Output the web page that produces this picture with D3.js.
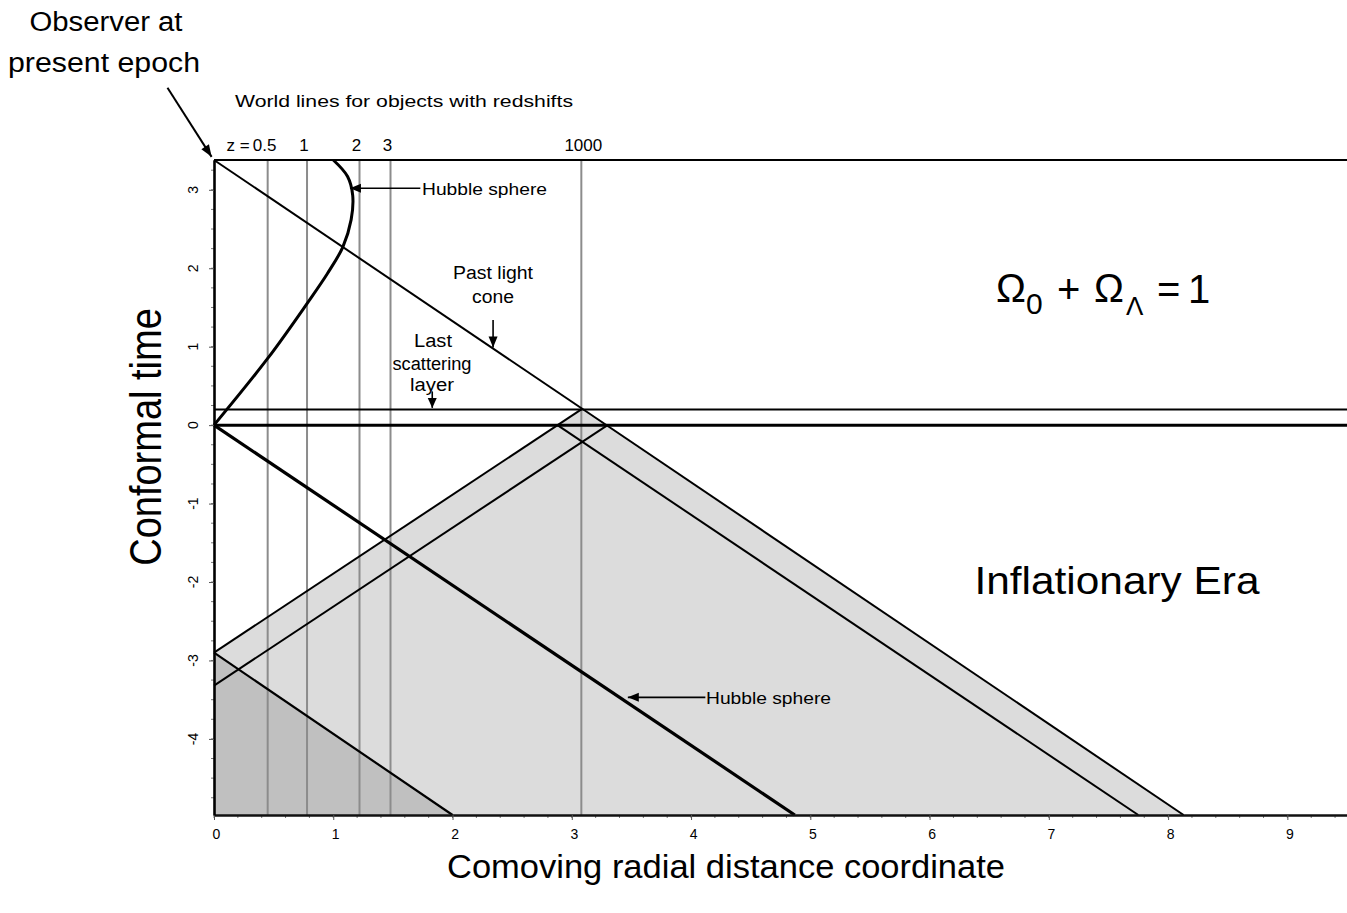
<!DOCTYPE html>
<html><head><meta charset="utf-8">
<script src="https://cdn.jsdelivr.net/npm/d3@7"></script>
<style>
body{margin:0;background:#fff}
text{font-family:Arial,"Liberation Sans",sans-serif;fill:#000}
</style>
</head><body>
<svg id="chart" width="1347" height="913"></svg>
<script>
// ---- axis ticks ----
const xTicks = [0,1,2,3,4,5,6,7,8,9];
const yTicks = [-4,-3,-2,-1,0,1,2,3];

// ---- conformal times ----
const tNow = 3.38;      // present epoch
const tLast = 0.2;      // last scattering layer
const tEndInfl = 0;     // end of inflation
const tMin = -4.97;     // bottom of the diagram
const xMax = 9.5;

// ---- world lines of objects at fixed redshift ----
const zLabels = ["0.5","1","2","3","1000"];
const zDistance = [0.45,0.78,1.22,1.48,3.08];

// ---- Hubble sphere after inflation (comoving distance vs conformal time) ----
const hubbleDist = [0,0.45,0.78,0.95,1.08,1.15,1.163,1.12,1.0];
const hubbleTime = [0,0.85,1.55,1.93,2.27,2.62,2.93,3.17,3.38];

// ---- Hubble sphere during inflation ----
const hubbleInflDist = [0,4.87];
const hubbleInflTime = [0,-4.97];

// ---- past light cone of the observer ----
const coneDist = [0,8.13];
const coneTime = [3.38,-4.97];

// ---- light cones inside the inflationary era ----
const outerLeftDist = [0,3.08],  outerLeftTime = [-2.9,0.2];
const innerLeftDist = [0,3.30],  innerLeftTime = [-3.32,0];
const innerRightDist = [2.88,7.75], innerRightTime = [0,-4.97];
const darkEdgeDist = [0,2.0],    darkEdgeTime = [-2.9,-4.97];

const svg = d3.select("#chart");
const x = d3.scaleLinear().domain([0,xMax]).range([214,1347]);
const y = d3.scaleLinear().domain([tMin,tNow]).range([815,160]);

const pts = (xs,ts) => xs.map((v,i)=>[x(v),y(ts[i])]);
const line = d3.line();

// ---- shaded regions ----
svg.append("path")
  .attr("d", line([
    [x(outerLeftDist[0]),y(outerLeftTime[0])],
    [x(outerLeftDist[1]),y(outerLeftTime[1])],
    [x(coneDist[1]),y(coneTime[1])],
    [x(0),y(tMin)]]) + "Z")
  .attr("fill","#dcdcdc");
svg.append("path")
  .attr("d", line([
    [x(darkEdgeDist[0]),y(darkEdgeTime[0])],
    [x(darkEdgeDist[1]),y(darkEdgeTime[1])],
    [x(0),y(tMin)]]) + "Z")
  .attr("fill","#c0c0c0");

// ---- redshift world lines ----
svg.selectAll("line.zline").data(zDistance).join("line")
  .attr("class","zline")
  .attr("x1",d=>x(d)).attr("x2",d=>x(d))
  .attr("y1",y(tNow)).attr("y2",y(tMin))
  .attr("stroke","#8c8c8c").attr("stroke-width",2);

// ---- straight black lines ----
function seg(xs,ts,w){
  svg.append("path").attr("d",line(pts(xs,ts)))
    .attr("fill","none").attr("stroke","#000").attr("stroke-width",w);
}
seg(outerLeftDist,outerLeftTime,2);
seg(innerLeftDist,innerLeftTime,2);
seg(innerRightDist,innerRightTime,2);
seg(darkEdgeDist,darkEdgeTime,2.2);
seg(coneDist,coneTime,2);
seg(hubbleInflDist,hubbleInflTime,3.2);
// horizontal epochs
seg([0,xMax],[tLast,tLast],2);
seg([0,xMax],[tEndInfl,tEndInfl],3);
seg([0,xMax],[tNow,tNow],2.2);

// Hubble sphere curve
svg.append("path")
  .attr("d", d3.line().curve(d3.curveCatmullRom.alpha(0.5))(pts(hubbleDist,hubbleTime)))
  .attr("fill","none").attr("stroke","#000").attr("stroke-width",3);

// ---- axes ----
const xMinor = d3.range(0,xMax+0.001,0.2);
const yMinor = d3.range(-4.75,tNow,0.25);
svg.append("g").selectAll("line").data(xMinor).join("line")
  .attr("x1",d=>x(d)).attr("x2",d=>x(d)).attr("y1",815).attr("y2",818)
  .attr("stroke","#777").attr("stroke-width",1);
svg.append("g").selectAll("line").data(yMinor).join("line")
  .attr("y1",d=>y(d)).attr("y2",d=>y(d)).attr("x1",211).attr("x2",214)
  .attr("stroke","#777").attr("stroke-width",1);

const gx = svg.append("g").attr("transform","translate(0,815)")
  .call(d3.axisBottom(x).tickValues(xTicks).tickSize(5).tickSizeOuter(0).tickPadding(9));
gx.select(".domain").attr("stroke","#111").attr("stroke-width",2.6);
gx.selectAll(".tick line").attr("stroke","#555");
gx.selectAll(".tick text").attr("font-size",14).attr("fill","#444")
  .attr("font-family","Arial, 'Liberation Sans', sans-serif").attr("dx",2);

const gy = svg.append("g").attr("transform","translate(214,0)")
  .call(d3.axisLeft(y).tickValues(yTicks).tickSize(5).tickSizeOuter(0).tickFormat(""));
gy.select(".domain").attr("stroke","#000").attr("stroke-width",2.6);
gy.selectAll(".tick line").attr("stroke","#555");
svg.append("g").selectAll("text").data(yTicks).join("text")
  .attr("transform",d=>`translate(198,${y(d)}) rotate(-90)`)
  .attr("text-anchor","middle").attr("font-size",14).attr("fill","#555")
  .text(d=>d);

// ---- redshift labels ----
svg.append("g").selectAll("text").data(zLabels).join("text")
  .attr("x",(d,i)=>x(zDistance[i]) - (i<4 ? 3 : -2))
  .attr("y",151).attr("text-anchor","middle").attr("font-size",17)
  .text(d=>d);
svg.append("text").attr("x",x(zDistance[0])-18).attr("y",151)
  .attr("text-anchor","end").attr("font-size",17).text("z =");

// ---- arrows ----
function arrow(x1,y1,x2,y2,len,wid,w){
  svg.append("line").attr("x1",x1).attr("y1",y1).attr("x2",x2).attr("y2",y2)
    .attr("stroke","#000").attr("stroke-width",w);
  const a = Math.atan2(y2-y1,x2-x1);
  const bx = x2 - len*Math.cos(a), by = y2 - len*Math.sin(a);
  const px = -Math.sin(a)*wid/2, py = Math.cos(a)*wid/2;
  svg.append("path").attr("d",`M${x2},${y2}L${bx+px},${by+py}L${bx-px},${by-py}Z`).attr("fill","#000");
}
arrow(x(-0.39),y(4.3),x(-0.02),y(3.42),12,9,2);     // observer
arrow(x(1.73),y(3.02),x(1.14),y(3.02),11,9,1.6);     // Hubble sphere (upper)
arrow(x(2.34),y(1.34),x(2.34),y(0.99),11,9,1.6);     // past light cone
arrow(x(1.83),y(0.43),x(1.83),y(0.22),10,9,1.6);     // last scattering
arrow(x(4.12),y(-3.47),x(3.47),y(-3.47),11,9,1.6);   // Hubble sphere (lower)

// ---- annotation text ----
function label(txt,cx,by,size,width,anchor){
  const t = svg.append("text").attr("x",cx).attr("y",by)
    .attr("font-size",size).attr("text-anchor",anchor||"middle").text(txt);
  if(width) t.attr("textLength",width).attr("lengthAdjust","spacingAndGlyphs");
  return t;
}
label("Observer at",106,31,27,153);
label("present epoch",104,72,27,192);
label("World lines for objects with redshifts",235,107,17,338,"start");
label("Hubble sphere",422,195,17,125,"start");
label("Past light",493,279,18,80);
label("cone",493,303,18,42);
label("Last",433,347,18,38);
label("scattering",432,370,18,79);
label("layer",432,391,18,44);
label("Hubble sphere",706,704,17,125,"start");
label("Inflationary Era",1117,594,38,285);
label("Comoving radial distance coordinate",726,878,34,558);

// vertical axis title
svg.append("text")
  .attr("transform","translate(161,437) scale(1.15,1) rotate(-90)")
  .attr("text-anchor","middle").attr("font-size",38)
  .text("Conformal time");

// Ω0 + ΩΛ = 1
const om = svg.append("g");
const serif = "'Liberation Serif','Times New Roman',serif";
om.append("text").attr("x",996).attr("y",302).attr("font-size",40).attr("font-family",serif).text("Ω");
om.append("text").attr("x",1026).attr("y",314).attr("font-size",30).text("0");
om.append("text").attr("x",1057).attr("y",303).attr("font-size",40).text("+");
om.append("text").attr("x",1094).attr("y",302).attr("font-size",40).attr("font-family",serif).text("Ω");
om.append("text").attr("x",1126).attr("y",315).attr("font-size",26).attr("font-family",serif).text("Λ");
om.append("text").attr("x",1157).attr("y",303).attr("font-size",40).text("=");
om.append("text").attr("x",1188).attr("y",303).attr("font-size",40).text("1");
</script>
</body></html>
